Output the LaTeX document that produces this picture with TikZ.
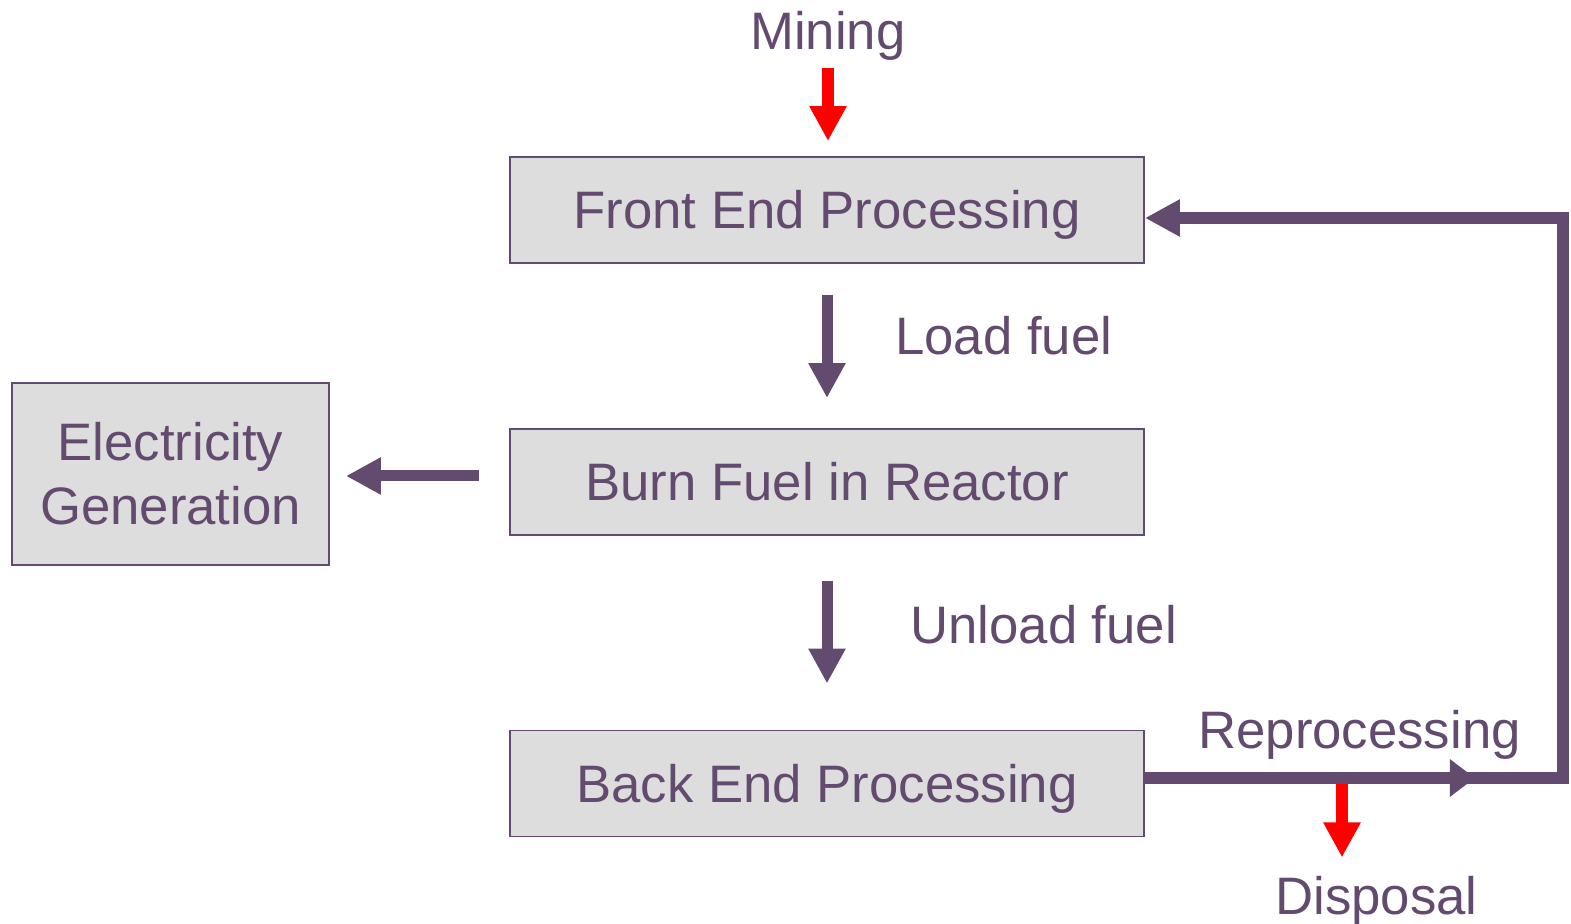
\documentclass[tikz,border=0pt]{standalone}
\usepackage{fontspec}
\setmainfont{Liberation Sans}
\definecolor{FuelPurple}{HTML}{634B6F}
\definecolor{FuelGray}{HTML}{DDDDDD}
\definecolor{FuelRed}{HTML}{FF0000}
\usetikzlibrary{arrows.meta, positioning, calc, decorations.markings}
\tikzset{
    box/.style={
        draw=FuelPurple,
        line width=1.1pt,
        fill=FuelGray,
        text=FuelPurple,
        minimum height=2.12cm,
        inner sep=0pt
    },
    procbox/.style={
        box,
        minimum width=12.68cm,
        text height=0.76cm,
        text depth=0pt
    },
    lbl/.style={
        text=FuelPurple,
        inner sep=0pt,
        anchor=base west
    },
    arrow/.style={
        -{Triangle[length=0.7cm, width=0.7cm]},
        line width=0.22cm,
        FuelPurple
    },
    redarrow/.style={
        -{Triangle[length=0.7cm, width=0.7cm]},
        line width=0.24cm,
        FuelRed
    },
    loopline/.style={
        -{Triangle[length=0.7cm, width=0.7cm]},
        line width=0.23cm,
        FuelPurple,
        postaction={decorate},
        decoration={markings,
            mark=at position 6.6cm with {\arrow{Triangle[length=0.5cm, width=0.72cm]}}}
    }
}
\begin{document}
\begin{tikzpicture}[font=\fontsize{30}{36.4}\selectfont]
    \useasboundingbox (0,0) rectangle (31.42,18.48);
    % Main chain
    \node[procbox] (front) at (16.54,14.28) {Front End Processing};
    \node[procbox] (burn) at (16.54,8.84) {Burn Fuel in Reactor};
    \node[procbox] (back) at (16.54,2.81) {Back End Processing};
    \node[box, minimum width=6.34cm, minimum height=3.64cm, align=center] (elec) at (3.41,9.0) {Electricity\\Generation};

    % Labels
    \node[lbl, anchor=base] (mining) at (16.56,17.48) {Mining};
    \node[lbl] (load) at (17.9,11.38) {Load fuel};
    \node[lbl] (unload) at (18.2,5.6) {Unload fuel};
    \node[lbl] (reproc) at (23.96,3.5) {Reprocessing};
    \node[lbl] (disposal) at (25.5,0.18) {Disposal};

    % Loop corners
    \coordinate (loopbr) at (31.26,2.92);
    \coordinate (looptr) at (31.26,14.12);
    \coordinate (split) at (26.84,2.92);

    \draw[redarrow, shorten <=0.14cm, shorten >=0.3cm] (mining.south) -- (mining.south |- front.north);
    \draw[arrow, shorten <=0.62cm, shorten >=0.6cm] (front.south) -- (burn.north);
    \draw[arrow, shorten <=0.9cm, shorten >=0.92cm] (burn.south) -- (back.north);
    \draw[arrow, shorten <=0.6cm, shorten >=0.32cm] ([yshift=0.12cm]burn.west) -- ([yshift=0.12cm]burn.west -| elec.east);
    \draw[redarrow, shorten >=0.38cm] (split) -- (split |- disposal.north);
    \draw[loopline] (back.east |- loopbr) -- (loopbr) -- (looptr) -- (front.east |- looptr);
\end{tikzpicture}
\end{document}
